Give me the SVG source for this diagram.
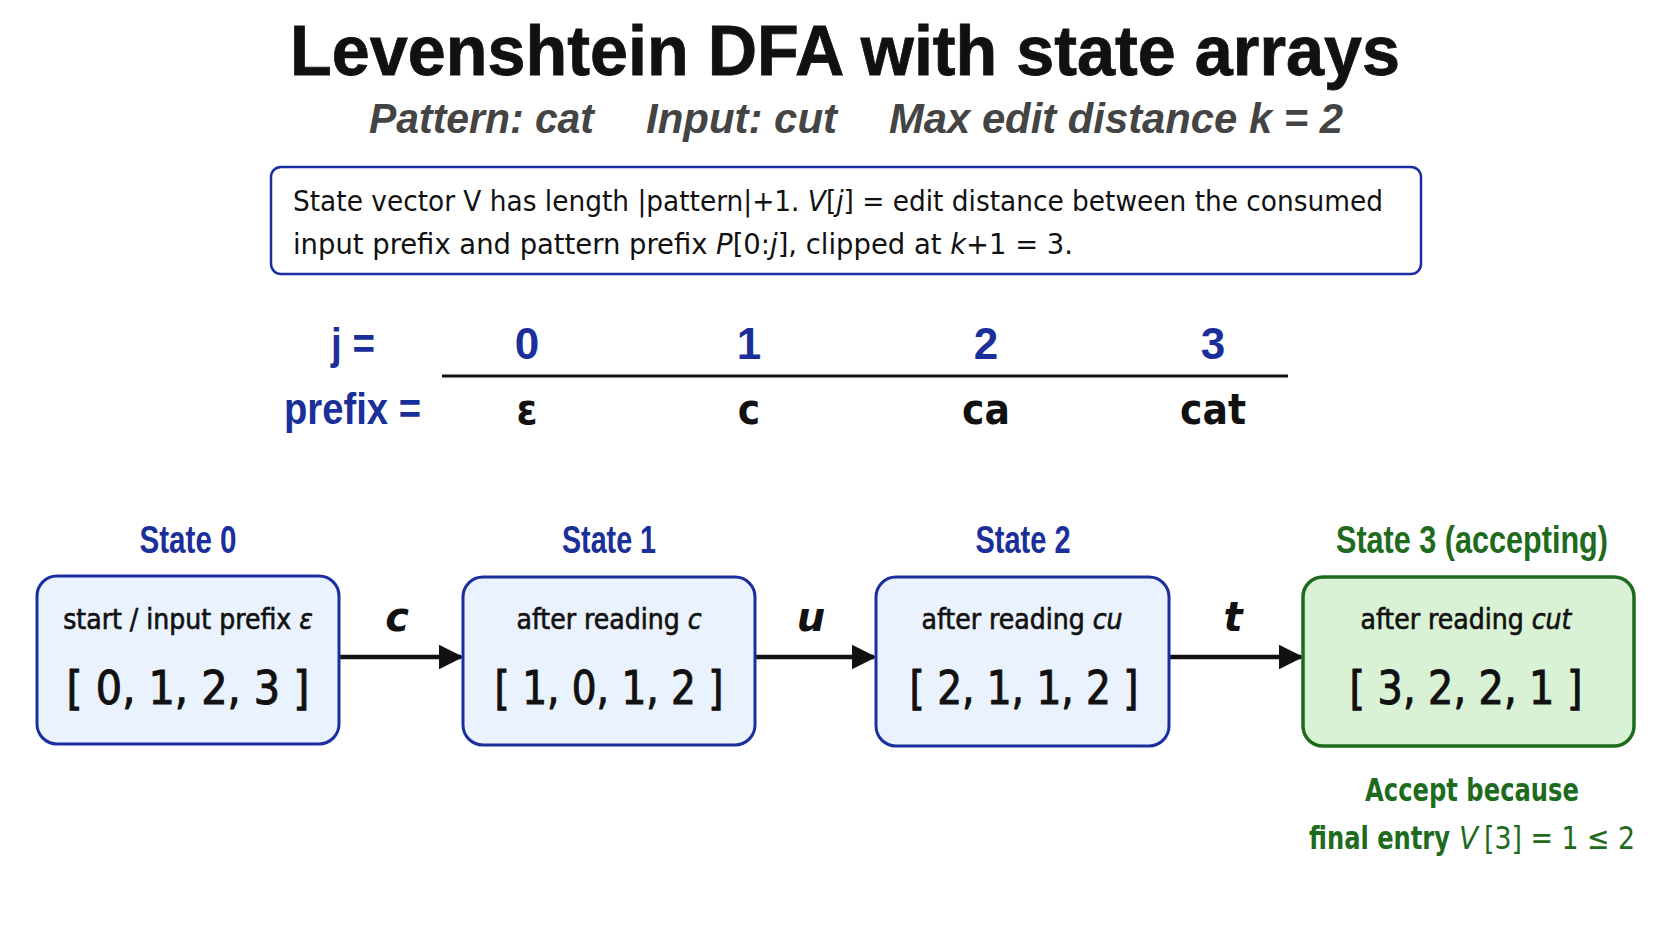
<svg xmlns="http://www.w3.org/2000/svg" width="1672" height="941" viewBox="0 0 1672 941">
<defs>
<style>
.title{font-family:"Liberation Sans",Arial,sans-serif;font-weight:bold;font-size:70px;fill:#111;stroke:#111;stroke-width:0.8}
.sub{font-family:"Liberation Sans",Arial,sans-serif;font-weight:bold;font-style:italic;font-size:43px;fill:#444}
.info{font-family:"DejaVu Sans Condensed","DejaVu Sans",sans-serif;font-stretch:condensed;font-size:28px;fill:#111}
.it{font-style:italic}
.hdr{font-family:"Liberation Sans",Arial,sans-serif;font-weight:bold;font-size:44px;fill:#1a2f9a}
.pre{font-family:"DejaVu Sans Condensed","DejaVu Sans",sans-serif;font-stretch:condensed;font-weight:bold;font-size:42px;fill:#111;text-anchor:middle}
.st{font-family:"Liberation Sans",Arial,sans-serif;font-weight:bold;font-size:38px;fill:#1a2f9a;text-anchor:middle}
.stg{fill:#1e6b1e}
.box{fill:#eaf2fd;stroke:#1a2ea0;stroke-width:3}
.boxg{fill:#d9f2d5;stroke:#1e6b1e;stroke-width:3.5}
.lab{font-family:"DejaVu Sans Condensed","DejaVu Sans",sans-serif;font-stretch:condensed;font-size:28px;fill:#111;stroke:#111;stroke-width:0.6;text-anchor:middle}
.arr{font-family:"DejaVu Sans Condensed","DejaVu Sans",sans-serif;font-stretch:condensed;font-size:46px;fill:#111;stroke:#111;stroke-width:1;text-anchor:middle}
.elab{font-family:"DejaVu Sans","Liberation Sans",sans-serif;font-weight:bold;font-style:italic;font-size:40px;fill:#111;text-anchor:middle}
.acc{font-family:"DejaVu Sans Condensed","DejaVu Sans",sans-serif;font-stretch:condensed;font-weight:bold;font-size:32px;fill:#1e6b1e}
.nw{font-weight:normal}
.edge{stroke:#111;stroke-width:4.5;fill:none}
</style>
<marker id="ah" viewBox="0 0 10 10" refX="9" refY="5" markerWidth="5.5" markerHeight="5.5" markerUnits="strokeWidth" orient="auto">
<path d="M0,0 L10,5 L0,10 z" fill="#111"/>
</marker>
</defs>
<rect width="1672" height="941" fill="#ffffff"/>

<g id="title">
<text class="title" x="290" y="75" textLength="1110" lengthAdjust="spacingAndGlyphs">Levenshtein DFA with state arrays</text>
<text class="sub" x="369" y="133" textLength="225" lengthAdjust="spacingAndGlyphs">Pattern: cat</text>
<text class="sub" x="646" y="133" textLength="191" lengthAdjust="spacingAndGlyphs">Input: cut</text>
<text class="sub" x="889" y="133" textLength="454" lengthAdjust="spacingAndGlyphs">Max edit distance k = 2</text>
</g>

<g id="info">
<rect x="271" y="167" width="1150" height="107" rx="10" fill="#ffffff" stroke="#1a2ea0" stroke-width="2.5"/>
<text class="info" x="293" y="211" textLength="1090" lengthAdjust="spacingAndGlyphs">State vector V has length |pattern|+1. <tspan class="it">V</tspan>[<tspan class="it">j</tspan>] = edit distance between the consumed</text>
<text class="info" x="293" y="254" textLength="780" lengthAdjust="spacingAndGlyphs">input prefix and pattern prefix <tspan class="it">P</tspan>[0:<tspan class="it">j</tspan>], clipped at <tspan class="it">k</tspan>+1 = 3.</text>
</g>

<g id="prefix-table">
<text class="hdr" x="331" y="359" textLength="44" lengthAdjust="spacingAndGlyphs">j =</text>
<text class="hdr" x="284" y="424" textLength="137" lengthAdjust="spacingAndGlyphs">prefix =</text>
<text class="hdr" x="527" y="359" text-anchor="middle">0</text>
<text class="hdr" x="749" y="359" text-anchor="middle">1</text>
<text class="hdr" x="986" y="359" text-anchor="middle">2</text>
<text class="hdr" x="1213" y="359" text-anchor="middle">3</text>
<line x1="442" y1="376" x2="1288" y2="376" stroke="#111" stroke-width="3"/>
<text class="pre" x="527" y="424">ε</text>
<text class="pre" x="749" y="424">c</text>
<text class="pre" x="986" y="424">ca</text>
<text class="pre" x="1213" y="424">cat</text>
</g>

<g id="connectors">
<line class="edge" x1="339" y1="657" x2="461" y2="657" marker-end="url(#ah)"/>
<line class="edge" x1="755" y1="657" x2="874" y2="657" marker-end="url(#ah)"/>
<line class="edge" x1="1169" y1="657" x2="1301" y2="657" marker-end="url(#ah)"/>
<text class="elab" x="397" y="631">c</text>
<text class="elab" x="811" y="631">u</text>
<text class="elab" x="1233" y="631">t</text>
</g>

<g id="state0">
<text class="st" x="188" y="553" textLength="97" lengthAdjust="spacingAndGlyphs">State 0</text>
<rect class="box" x="37" y="576" width="302" height="168" rx="20"/>
<text class="lab" x="188" y="629">start / input prefix <tspan class="it">ε</tspan></text>
<text class="arr" x="188" y="704" textLength="243" lengthAdjust="spacingAndGlyphs">[ 0, 1, 2, 3 ]</text>
</g>

<g id="state1">
<text class="st" x="609" y="553" textLength="94" lengthAdjust="spacingAndGlyphs">State 1</text>
<rect class="box" x="463" y="577" width="292" height="168" rx="20"/>
<text class="lab" x="609" y="629">after reading <tspan class="it">c</tspan></text>
<text class="arr" x="609" y="704" textLength="229" lengthAdjust="spacingAndGlyphs">[ 1, 0, 1, 2 ]</text>
</g>

<g id="state2">
<text class="st" x="1023" y="553" textLength="95" lengthAdjust="spacingAndGlyphs">State 2</text>
<rect class="box" x="876" y="577" width="293" height="169" rx="20"/>
<text class="lab" x="1022" y="629">after reading <tspan class="it">cu</tspan></text>
<text class="arr" x="1024" y="704" textLength="229" lengthAdjust="spacingAndGlyphs">[ 2, 1, 1, 2 ]</text>
</g>

<g id="state3">
<text class="st stg" x="1472" y="553" textLength="272" lengthAdjust="spacingAndGlyphs">State 3 (accepting)</text>
<rect class="boxg" x="1303" y="577" width="331" height="169" rx="20"/>
<text class="lab" x="1466" y="629">after reading <tspan class="it">cut</tspan></text>
<text class="arr" x="1466" y="704" textLength="233" lengthAdjust="spacingAndGlyphs">[ 3, 2, 2, 1 ]</text>
<text class="acc" x="1365" y="801" textLength="214" lengthAdjust="spacingAndGlyphs">Accept because</text>
<text class="acc" x="1309" y="849" textLength="141" lengthAdjust="spacingAndGlyphs">final entry</text>
<text class="acc nw it" x="1459" y="849" textLength="19" lengthAdjust="spacingAndGlyphs">V</text>
<text class="acc nw" x="1484" y="849" textLength="151" lengthAdjust="spacingAndGlyphs">[3] = 1 ≤ 2</text>
</g>
</svg>
